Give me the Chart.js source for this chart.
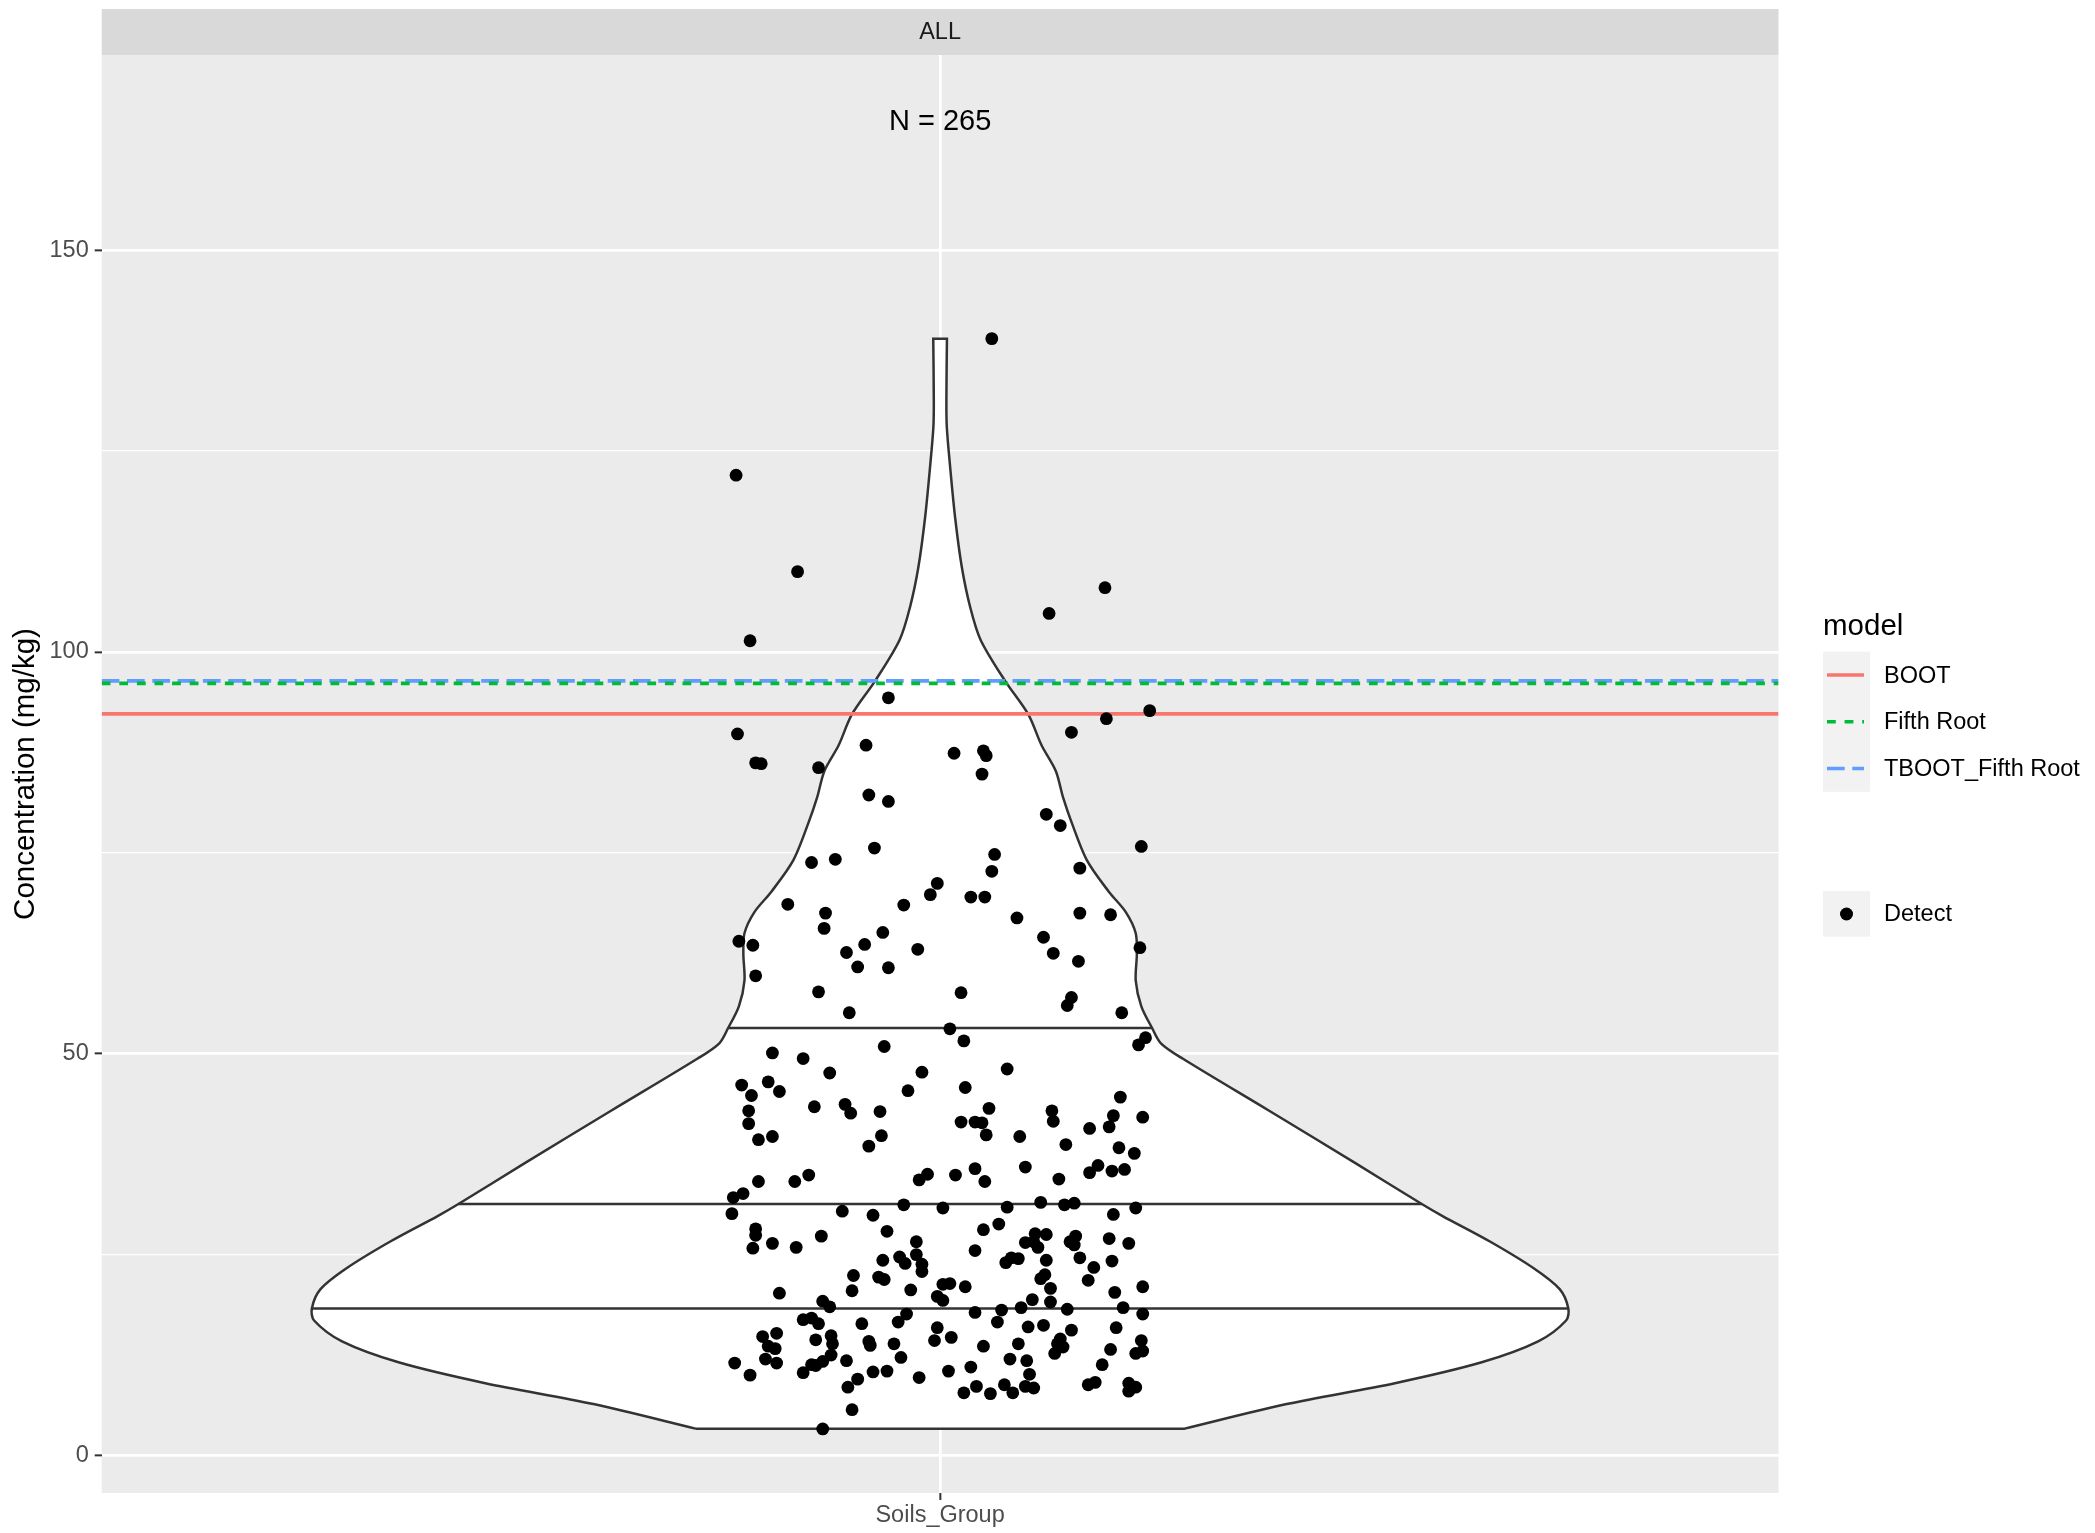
<!DOCTYPE html>
<html>
<head>
<meta charset="utf-8">
<script src="https://cdn.jsdelivr.net/npm/chart.js@4.4.0/dist/chart.umd.min.js"></script>
<style>
body{margin:0;background:#fff}
canvas{display:block}
</style>
</head>
<body>
<canvas id="chart" width="2095" height="1533"></canvas>
<script>
// data
var category = 'Soils_Group'
var panelLabel = 'ALL'
var nLabel = 'N = 265'
var nLabelY = 166

var yTicks = [0, 25, 50, 75, 100, 125, 150]
var yTickLabels = ['0', '', '50', '', '100', '', '150']

var modelNames = ['BOOT', 'Fifth Root', 'TBOOT_Fifth Root']
var modelValues = [92.3, 96.1, 96.4]
var modelColors = ['#F8766D', '#00BA38', '#619CFF']
var modelDash = [[], [8.8, 8.8], [17.7, 7.6]]

// violin outline: concentration level and half width (in category units)
var violinY = [3.34, 6.4, 9.0, 11.6, 14.2, 16.8, 18.3, 20.7, 23.3, 26.6, 29.8, 31.3, 36.35, 42.9, 49.4, 51.3, 53.2, 55.9, 59.1, 62.4, 65.0, 67.6, 70.2, 74.1, 78.7, 81.9, 85.2, 88.4, 92.2, 96.4, 101.5, 105.6, 110.6, 116.8, 123.0, 128.0, 131.3, 139.0]
var violinHalf = [0.175, 0.248, 0.3255, 0.3876, 0.428, 0.448, 0.4496, 0.4434, 0.4248, 0.3938, 0.3596, 0.3447, 0.2975, 0.2355, 0.1735, 0.158, 0.1517, 0.144, 0.140, 0.1408, 0.140, 0.133, 0.1206, 0.105, 0.0943, 0.088, 0.0828, 0.0726, 0.0632, 0.0465, 0.029, 0.0215, 0.0155, 0.0107, 0.0072, 0.0048, 0.0045, 0.0049]

var quantileY = [18.3, 31.3, 53.2]
var quantileHalf = [0.4496, 0.3447, 0.1517]

// detects: jitter offset from the category and concentration (mg/kg)
var jitterX = [0.037, -0.146, -0.102, -0.136, 0.078, 0.118,
  -0.037, -0.145, -0.132, -0.128, -0.087, -0.053, 0.010, 0.031, 0.033, 0.030, 0.094, 0.119, 0.150, -0.051,
  -0.037, 0.076, 0.086, 0.144, -0.047, -0.092, -0.075, 0.039, 0.037, 0.100, -0.002, -0.007, 0.022, 0.032, -0.109, -0.026,
  -0.082, -0.083, -0.144, -0.134, -0.132, -0.041, -0.054, -0.067, -0.059, -0.037, -0.016, -0.087, -0.065, 0.015,
  0.055, 0.100, 0.122, 0.074, 0.081, 0.099, 0.143, 0.094, 0.091, 0.130, 0.007, 0.017, 0.147, 0.142, -0.040, -0.120,
  -0.098, -0.079, -0.013, 0.048, -0.142, -0.123,
  -0.135, -0.115, -0.137, -0.137, -0.130, -0.120, -0.090, -0.068, -0.064, -0.043, -0.042, -0.051, -0.023, 0.018,
  0.035, 0.015, 0.025, 0.030, 0.033, 0.057, 0.080, 0.081, 0.090, 0.107, 0.121, 0.124, 0.129, 0.145, 0.128, 0.139,
  0.132, 0.123, 0.113, 0.107, 0.085, 0.061, 0.025, 0.032, 0.011, -0.009, -0.015, -0.130, -0.104, -0.094, -0.141, -0.148,
  -0.149, -0.070, -0.048, -0.026, 0.002, 0.048, 0.072, 0.089, 0.096, 0.124, 0.140,
  -0.132, -0.132, -0.134, -0.120, -0.103, -0.085, -0.038, -0.017, -0.041, -0.029, -0.025, -0.017, -0.013, -0.013,
  -0.062, -0.044, -0.040, -0.063, -0.115, -0.021, 0.002, 0.007, -0.002, 0.002, 0.018, 0.031, 0.042, 0.025, 0.047,
  0.051, 0.056, 0.061, 0.068, 0.070, 0.076, 0.067, 0.076, 0.072, 0.075, 0.079, 0.066, 0.079, 0.093, 0.097, 0.096,
  0.100, 0.110, 0.106, 0.121, 0.135, 0.123, 0.125, 0.145, 0.131, 0.145, 0.091, 0.058, 0.044, 0.041, 0.025, -0.002,
  -0.024, -0.030, -0.056, -0.084, -0.079, -0.098, -0.092, -0.087, 0.063, 0.074, 0.094, 0.126,
  -0.127, -0.117, -0.123, -0.118, -0.125, -0.117, -0.147, -0.136, -0.089, -0.078, -0.077, -0.078, -0.084, -0.089,
  -0.092, -0.098, -0.067, -0.051, -0.050, -0.033, -0.028, -0.048, -0.038, -0.059, -0.066, -0.063, -0.084, -0.015,
  -0.004, 0.008, 0.006, 0.022, 0.031, 0.017, 0.026, 0.036, 0.046, 0.052, 0.050, 0.062, 0.056, 0.064, 0.061, 0.067,
  0.086, 0.088, 0.082, 0.084, 0.122, 0.116, 0.144, 0.145, 0.140, 0.106, 0.111, 0.135, 0.140, 0.135]
var conc = [139.0, 122.0, 110.0, 101.4, 104.8, 108.0,
  94.3, 89.8, 86.2, 86.1, 85.6, 88.4, 87.4, 87.7, 87.1, 84.8, 90.0, 91.7, 92.7, 82.2,
  81.4, 79.8, 78.4, 75.8, 75.6, 73.8, 74.2, 74.8, 72.7, 73.1, 71.2, 69.8, 69.5, 69.5, 68.6, 68.5,
  67.5, 65.6, 64.0, 63.5, 59.7, 65.1, 63.6, 62.6, 60.8, 60.7, 63.0, 57.7, 55.1, 57.6,
  66.9, 67.5, 67.3, 64.5, 62.5, 61.5, 63.2, 57.0, 56.0, 55.1, 53.1, 51.6, 52.0, 51.1, 50.9, 50.1,
  49.4, 47.6, 47.7, 48.1, 46.1, 46.5,
  44.8, 45.3, 42.9, 41.3, 39.3, 39.7, 43.4, 43.7, 42.6, 42.8, 39.8, 38.5, 45.4, 45.8,
  43.2, 41.5, 41.5, 41.4, 39.9, 39.7, 42.9, 41.6, 38.7, 40.7, 40.9, 42.3, 44.6, 42.1, 38.3, 37.6,
  35.6, 35.4, 36.1, 35.2, 34.4, 35.9, 35.7, 34.1, 34.9, 35.0, 34.3, 34.1, 34.1, 34.9, 32.6, 32.1,
  30.1, 30.4, 29.9, 31.2, 30.8, 30.9, 31.5, 31.2, 31.4, 30.0, 30.8,
  28.2, 27.4, 25.8, 26.4, 25.9, 27.3, 27.9, 26.6, 24.3, 24.7, 23.9, 25.0, 23.8, 22.9,
  22.4, 22.2, 21.9, 20.5, 20.2, 20.6, 21.3, 21.4, 19.8, 19.3, 21.0, 28.1, 28.8, 25.5, 24.0,
  24.6, 24.5, 26.5, 27.6, 25.9, 27.5, 26.6, 24.3, 22.0, 22.5, 20.8, 19.4, 19.1, 26.6, 27.3, 26.2,
  24.6, 23.4, 21.8, 27.0, 26.4, 24.2, 20.3, 21.0, 18.4, 17.6, 18.2, 18.4, 18.1, 16.6, 17.8, 15.9,
  17.6, 16.6, 16.4, 19.2, 18.5, 16.9, 17.1, 16.4, 16.0, 16.2, 15.6, 15.9,
  14.8, 15.2, 13.6, 13.3, 12.0, 11.5, 11.5, 10.0, 14.4, 14.9, 13.9, 12.5, 11.7, 11.2,
  11.3, 10.3, 11.8, 14.2, 13.7, 13.9, 12.2, 10.4, 10.5, 9.5, 8.5, 5.7, 3.3, 9.7,
  14.3, 14.7, 10.5, 11.0, 13.6, 7.8, 8.6, 7.7, 8.8, 7.8, 12.0, 11.8, 13.9, 10.1, 8.6, 8.4,
  14.5, 13.5, 12.7, 13.9, 13.2, 11.3, 14.3, 13.0, 12.7, 8.8, 9.1, 9.0, 8.5, 8.0]

var FONT = "'Liberation Sans', Arial, Helvetica, sans-serif"

// build datasets
// corner points are pushed twice so the spline keeps the flat ends straight
var n = violinY.length
var violinPts = []
for (var i = 0; i < n; i++) {
    var p = {x: 1 - violinHalf[i], y: violinY[i]}
    violinPts.push(p)
    if (i === 0 || i === n - 1) violinPts.push(p)
}
for (var i = n - 1; i >= 0; i--) {
    var p = {x: 1 + violinHalf[i], y: violinY[i]}
    violinPts.push(p)
    if (i === 0 || i === n - 1) violinPts.push(p)
}
violinPts.push(violinPts[0])

var datasets = []
datasets.push({
    data: jitterX.map(function(j, k) { return {x: 1 + j, y: conc[k]} }),
    backgroundColor: '#000', borderWidth: 0, pointRadius: 6.4, order: 0
})
for (var m = 0; m < modelNames.length; m++) {
    datasets.push({
        data: [{x: 0.4, y: modelValues[m]}, {x: 1.6, y: modelValues[m]}],
        showLine: true, borderColor: modelColors[m], borderWidth: 3.6,
        borderDash: modelDash[m], pointRadius: 0, order: 1, borderCapStyle: 'butt'
    })
}
for (var q = 0; q < quantileY.length; q++) {
    datasets.push({
        data: [{x: 1 - quantileHalf[q], y: quantileY[q]}, {x: 1 + quantileHalf[q], y: quantileY[q]}],
        showLine: true, borderColor: '#333333', borderWidth: 2.5, pointRadius: 0, order: 2
    })
}
datasets.push({
    data: violinPts, showLine: true, fill: 'shape', backgroundColor: '#ffffff',
    borderColor: '#333333', borderWidth: 2.5, pointRadius: 0, tension: 0.3, order: 3
})

var ggPlugin = {
    id: 'gg',
    beforeDraw: function(chart) {
        var ctx = chart.ctx, a = chart.chartArea
        ctx.save()
        ctx.fillStyle = '#ebebeb'
        ctx.fillRect(a.left, a.top, a.right - a.left, a.bottom - a.top)
        ctx.restore()
    },
    afterDraw: function(chart) {
        var ctx = chart.ctx, a = chart.chartArea
        var xs = chart.scales.x, ys = chart.scales.y
        ctx.save()
        // strip
        ctx.fillStyle = '#d9d9d9'
        ctx.fillRect(a.left, 9, a.right - a.left, a.top - 9)
        ctx.fillStyle = '#1a1a1a'
        ctx.font = '23.5px ' + FONT
        ctx.textAlign = 'center'
        ctx.textBaseline = 'middle'
        ctx.fillText(panelLabel, (a.left + a.right) / 2, 33)
        // N label
        ctx.fillStyle = '#000'
        ctx.font = '29px ' + FONT
        ctx.fillText(nLabel, xs.getPixelForValue(1), ys.getPixelForValue(nLabelY))
        // y title
        ctx.save()
        ctx.translate(26, (a.top + a.bottom) / 2)
        ctx.rotate(-Math.PI / 2)
        ctx.font = '29.5px ' + FONT
        ctx.fillText('Concentration (mg/kg)', 0, 0)
        ctx.restore()
        // legend
        var lx = 1823, kw = 47, kh = 46.7
        ctx.textAlign = 'left'
        ctx.textBaseline = 'alphabetic'
        ctx.font = '29.5px ' + FONT
        ctx.fillText('model', lx, 635)
        ctx.fillStyle = '#f2f2f2'
        ctx.fillRect(lx, 651.7, kw, kh * modelNames.length)
        ctx.textBaseline = 'middle'
        ctx.font = '23.5px ' + FONT
        for (var m = 0; m < modelNames.length; m++) {
            var cy = 651.7 + kh * (m + 0.5)
            ctx.strokeStyle = modelColors[m]
            ctx.lineWidth = 3.6
            ctx.lineCap = 'butt'
            ctx.setLineDash(modelDash[m])
            ctx.beginPath()
            ctx.moveTo(lx + 4, cy)
            ctx.lineTo(lx + kw - 6, cy)
            ctx.stroke()
            ctx.setLineDash([])
            ctx.fillStyle = '#000'
            ctx.fillText(modelNames[m], 1884, cy + 1)
        }
        ctx.fillStyle = '#f2f2f2'
        ctx.fillRect(lx, 891, kw, 45.7)
        ctx.fillStyle = '#000'
        ctx.beginPath()
        ctx.arc(lx + kw / 2, 914, 6.5, 0, Math.PI * 2)
        ctx.fill()
        ctx.fillText('Detect', 1884, 915)
        ctx.restore()
    }
}

new Chart(document.getElementById('chart'), {
    type: 'scatter',
    data: {datasets: datasets},
    plugins: [ggPlugin],
    options: {
        responsive: false,
        animation: false,
        devicePixelRatio: 1,
        events: [],
        layout: {padding: {top: 55, right: 316.5, left: 0, bottom: 0}},
        plugins: {legend: {display: false}, tooltip: {enabled: false}},
        scales: {
            x: {
                type: 'linear', min: 0.4, max: 1.6,
                afterBuildTicks: function(s) { s.ticks = [{value: 1}] },
                afterFit: function(s) { s.height = 40 },
                ticks: {
                    callback: function() { return category },
                    color: '#4d4d4d', font: {family: FONT, size: 23.5}, padding: 1,
                    maxRotation: 0, autoSkip: false
                },
                grid: {color: '#ffffff', lineWidth: 2.7, tickColor: '#333333', tickLength: 7, tickWidth: 2},
                border: {display: false}
            },
            y: {
                type: 'linear', min: -4.67, max: 174.3,
                afterBuildTicks: function(s) { s.ticks = yTicks.map(function(v) { return {value: v} }) },
                afterFit: function(s) { s.width = 101.7 },
                ticks: {
                    callback: function(v) { return yTickLabels[yTicks.indexOf(v)] },
                    color: '#4d4d4d', font: {family: FONT, size: 23.5}, padding: 6, autoSkip: false
                },
                grid: {
                    color: '#ffffff',
                    lineWidth: function(c) { return c.tick && c.tick.value % 50 === 0 ? 2.7 : 1.3 },
                    tickColor: function(c) { return c.tick && c.tick.value % 50 === 0 ? '#333333' : 'rgba(0,0,0,0)' },
                    tickLength: 7, tickWidth: 2
                },
                border: {display: false}
            }
        }
    }
})
</script>
</body>
</html>
